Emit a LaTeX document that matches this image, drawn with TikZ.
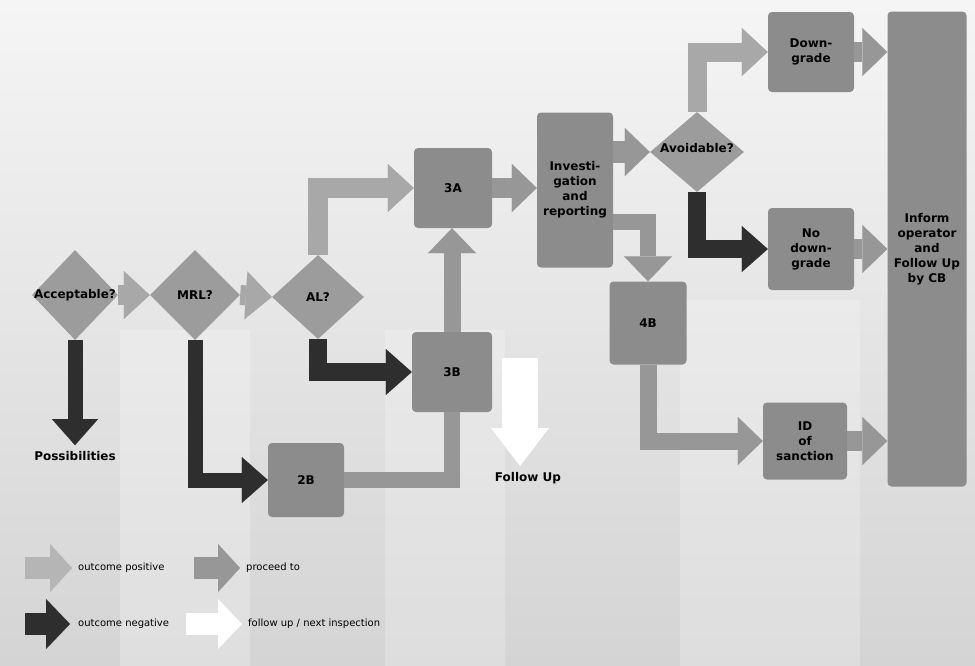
\documentclass[tikz,border=0pt]{standalone}
\usepackage{fontspec}
\setmainfont{DejaVu Sans}
\usetikzlibrary{shapes.geometric,arrows.meta,calc}
\definecolor{cpos}{HTML}{A8A8A8}
\definecolor{cproc}{HTML}{979797}
\definecolor{cneg}{HTML}{2E2E2E}
\definecolor{cdia}{HTML}{9C9C9C}
\definecolor{cbox}{HTML}{8C8C8C}
\definecolor{cbgtop}{HTML}{F5F5F5}
\definecolor{cbgbot}{HTML}{D4D4D4}
\begin{document}
\begin{tikzpicture}[x=1pt,y=-1pt,
  dia/.style={diamond, fill=cdia, inner sep=0pt, draw=none},
  lbl/.style={font=\bfseries\fontsize{12}{15}\selectfont, inner sep=0pt, text=black},
  box/.style={rectangle, rounded corners=4pt, fill=cbox, inner sep=0pt, align=center,
              font=\bfseries\fontsize{12}{15}\selectfont},
  legtext/.style={anchor=west, inner sep=0pt, font=\fontsize{10}{12}\selectfont},
  posarrow/.style={draw=cpos, line width=#1, -{Triangle[width=48pt,length=26pt,line width=0.1pt]}},
  procarrow/.style={draw=cproc, line width=#1, -{Triangle[width=48pt,length=25pt,line width=0.1pt]}},
  negarrow/.style={draw=cneg, line width=#1, -{Triangle[width=46pt,length=26pt,line width=0.1pt]}},
  procbar/.style={draw=cproc, line width=#1},
  fuarrow/.style={draw=white, line width=36pt, -{Triangle[width=58pt,length=38pt,line width=0.1pt]}}
]
\useasboundingbox (0,0) rectangle (975,665);
% background
\shade[top color=cbgtop, bottom color=cbgbot] (0,0) rectangle (975,665);
\shade[top color=white, bottom color=white, opacity=0.25] (120,330) rectangle (250,665);
\shade[top color=white, bottom color=white, opacity=0.22] (385,330) rectangle (505,665);
\shade[top color=white, bottom color=white, opacity=0.22] (680,300) rectangle (860,665);

% nodes
\node[dia, minimum width=86pt, minimum height=90pt, label={[lbl]center:Acceptable?}] (acc) at (75,295) {};
\node[dia, minimum width=90pt, minimum height=90pt, label={[lbl]center:MRL?}] (mrl) at (195,295) {};
\node[dia, minimum width=92pt, minimum height=84pt, label={[lbl]center:AL?}] (al) at (318,297) {};
\node[dia, minimum width=94pt, minimum height=80pt, label={[lbl,yshift=4pt]center:Avoidable?}] (avoid) at (697,152) {};

\node[box, minimum width=76pt, minimum height=74pt] (b2B) at (306,480) {2B};
\node[box, minimum width=78pt, minimum height=80pt] (b3A) at (453,188) {3A};
\node[box, minimum width=80pt, minimum height=80pt] (b3B) at (452,372) {3B};
\node[box, minimum width=76pt, minimum height=155pt] (inv) at (575,190) {Investi-\\gation\\and\\reporting};
\node[box, minimum width=77pt, minimum height=83pt] (b4B) at (648,323) {4B};
\node[box, minimum width=86pt, minimum height=80pt] (down) at (811,52) {Down-\\grade};
\node[box, minimum width=86pt, minimum height=82pt] (nodown) at (811,249) {No\\down-\\grade};
\node[box, minimum width=84pt, minimum height=77pt] (idsanc) at (805,441) {ID\\of\\sanction};
\node[box, minimum width=79pt, minimum height=475pt] (inform) at (927,249) {Inform\\operator\\and\\Follow Up\\by CB};

\node[lbl] (poss) at (75,456) {Possibilities};
\node[lbl] (fu) at (528,478) {Follow Up};
\coordinate (fustart) at (520,358);

% connectors
\draw[posarrow=20pt] (acc.east) -- (mrl.west);
\draw[posarrow=20pt] (mrl.east) -- (al.west);
\draw[posarrow=20pt] (al.north) |- (b3A.west);
\draw[posarrow=19pt] (avoid.north) |- (down.west);

\draw[negarrow=15pt] (acc.south) -- ([yshift=6pt]poss.north);
\draw[negarrow=15pt] (mrl.south) |- (b2B.west);
\draw[negarrow=18pt] (al.south) |- (b3B.west);
\draw[negarrow=18pt] (avoid.south) |- (nodown.west);

\draw[procbar=16pt] (b2B.east) -| (b3B.south);
\draw[procarrow=17pt] (b3B.north) -- (b3B.north |- b3A.south);
\draw[procarrow=20pt] (b3A.east) -- (b3A.east -| inv.west);
\draw[procarrow=22pt] (inv.east |- avoid.west) -- (avoid.west);
\draw[procarrow=16pt] ([yshift=-32pt]inv.east) -| (b4B.north);
\draw[procarrow=17pt] (b4B.south) |- (idsanc.west);
\draw[procarrow=20pt] (down.east) -- (down.east -| inform.west);
\draw[procarrow=20pt] (nodown.east) -- (nodown.east -| inform.west);
\draw[procarrow=20pt] (idsanc.east) -- (idsanc.east -| inform.west);

\draw[fuarrow] (fustart) -- ([yshift=6pt]fustart |- fu.north);

% legend
\coordinate (lp1) at (25,568); \coordinate (lp2) at (72,568);
\coordinate (lq1) at (194,568); \coordinate (lq2) at (240,568);
\coordinate (ln1) at (25,624); \coordinate (ln2) at (70,624);
\coordinate (lf1) at (186,624); \coordinate (lf2) at (242,624);
\draw[draw=cpos!85!white, line width=22pt, -{Triangle[width=48pt,length=22pt,line width=0.1pt]}] (lp1) -- (lp2);
\draw[draw=cproc, line width=22pt, -{Triangle[width=48pt,length=22pt,line width=0.1pt]}] (lq1) -- (lq2);
\draw[draw=cneg, line width=22pt, -{Triangle[width=50pt,length=24pt,line width=0.1pt]}] (ln1) -- (ln2);
\draw[draw=white, line width=22pt, -{Triangle[width=50pt,length=24pt,line width=0.1pt]}] (lf1) -- (lf2);
\node[legtext] (tpos) at (78,568) {outcome positive};
\node[legtext] (tproc) at (246,568) {proceed to};
\node[legtext] (tneg) at (78,624) {outcome negative};
\node[legtext] (tfu) at (248,624) {follow up / next inspection};
\end{tikzpicture}
\end{document}
